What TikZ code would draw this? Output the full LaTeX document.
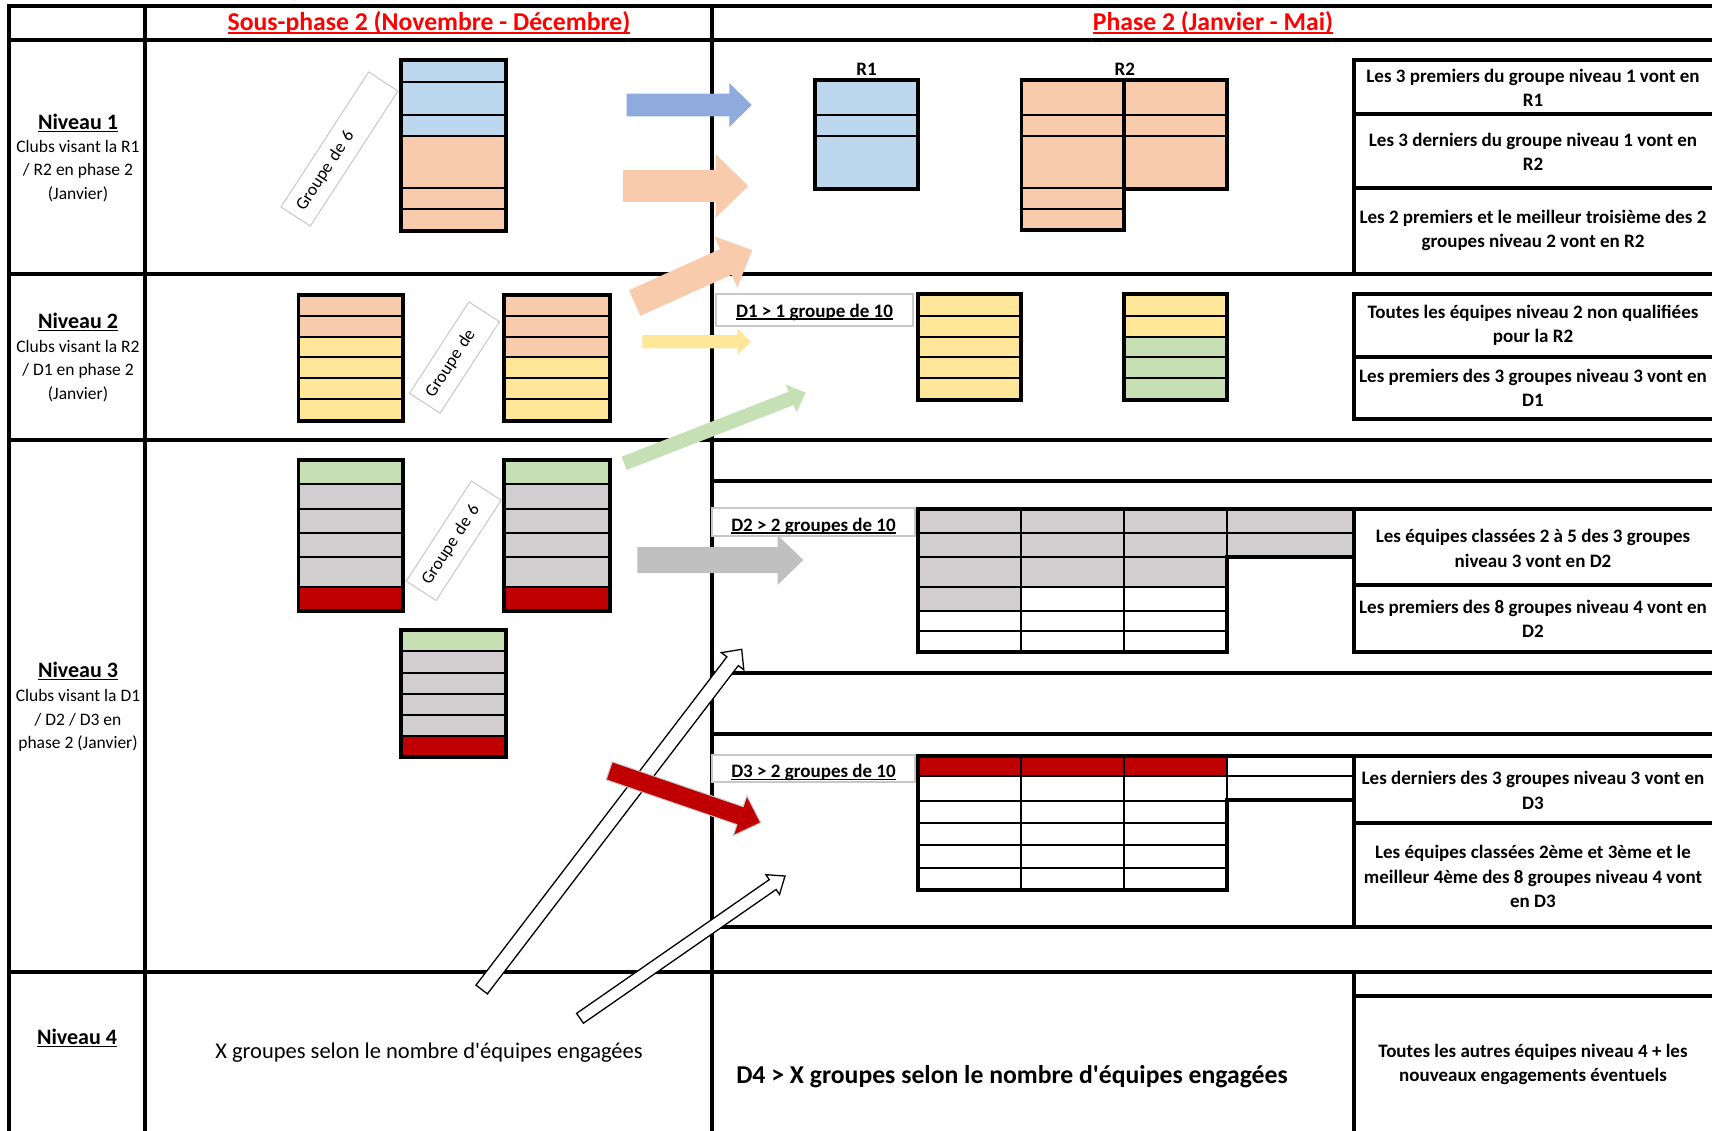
\documentclass[tikz,border=0pt]{standalone}
\usepackage{fontspec}
\setmainfont{Carlito}
\usetikzlibrary{calc}
\definecolor{cblue}{HTML}{BDD7EE}
\definecolor{corange}{HTML}{F8CBAD}
\definecolor{cyellow}{HTML}{FFE699}
\definecolor{cgreen}{HTML}{C6E0B4}
\definecolor{cgray}{HTML}{D0CECE}
\definecolor{cred}{HTML}{C00000}
\definecolor{ablue}{HTML}{8FAADC}
\definecolor{agreen}{HTML}{C5E0B4}
\definecolor{agray}{HTML}{BFBFBF}
\definecolor{hred}{HTML}{FF0000}
\definecolor{lgray}{HTML}{C8C8C8}
\newcommand\ulx[1]{\sbox0{#1}\rlap{\rule[-0.14em]{\wd0}{0.07em}}\usebox0}
\newcommand\fsz[1]{\fontsize{#1}{#1}\selectfont}
% block arrow: style, tail, tip, shaft half width, head half width, head length
\newcommand\barrow[6]{%
  \coordinate (#2b) at ($(#3)!#6!(#2)$);
  \path[#1] ($(#2)!#4!90:(#3)$) -- ($(#2b)!#4!90:(#3)$) -- ($(#2b)!#5!90:(#3)$) -- (#3)
    -- ($(#2b)!#5!-90:(#3)$) -- ($(#2b)!#4!-90:(#3)$) -- ($(#2)!#4!-90:(#3)$) -- cycle;}
% group box: x1, x2, ytop, ybottom, rows
\newcommand\gbox[5]{%
  \foreach \ya/\yb/\fc in {#5}{\fill[\fc] (#1,\ya) rectangle (#2,\yb); \draw[inner] (#1,\ya) -- (#2,\ya);}
  \draw[outer] (#1,#3) rectangle (#2,#4);}
% grid column cells: x1, x2, rows
\newcommand\gcells[3]{%
  \foreach \ya/\yb/\fc in {#3}{\filldraw[fill=\fc, inner] (#1,\ya) rectangle (#2,\yb);}}
\begin{document}
\begin{tikzpicture}[x=1pt,y=-1pt,
  tab/.style={line width=3.5pt, line cap=rect},
  outer/.style={line width=3.6pt, line cap=rect},
  inner/.style={line width=2.2pt},
  hdr/.style={text=hred, font=\bfseries\fsz{25.7}},
  nivt/.style={font=\bfseries\fsz{22}},
  nivs/.style={font=\fontsize{17.5}{23.3}\selectfont, align=center},
  rtxt/.style={font=\bfseries\fontsize{19}{24.5}\selectfont, align=center},
  lblbox/.style={draw=lgray, line width=1.3pt, fill=white, inner sep=0pt},
  lbltxt/.style={font=\bfseries\fsz{19}},
  grpbox/.style={draw=lgray, line width=1pt, fill=white, inner xsep=9pt, inner ysep=0pt, align=left, font=\fsz{17.5}, rotate=57},
  whitearr/.style={fill=white, draw=black, line width=1.3pt, line join=miter}]
\useasboundingbox (0,0) rectangle (1712,1131);
\fill[white] (0,0) rectangle (1712,1131);

% ---- table lines ----
\draw[tab] (9,6) -- (1712,6);
\draw[tab] (9,40) -- (1712,40);
\draw[tab] (9,274) -- (1712,274);
\draw[tab] (9,440) -- (1712,440);
\draw[tab] (9,972) -- (1712,972);
\draw[tab] (9,6) -- (9,1131);
\draw[tab] (145,6) -- (145,1131);
\draw[tab] (712,6) -- (712,1131);
\draw[tab] (712,481) -- (1712,481);
\draw[tab] (712,673) -- (1712,673);
\draw[tab] (712,734) -- (1712,734);
\draw[tab] (712,927) -- (1712,927);
% right text boxes
\draw[tab] (1712,60) -- (1354,60) -- (1354,274);
\draw[tab] (1354,114) -- (1712,114);
\draw[tab] (1354,188) -- (1712,188);
\draw[tab] (1712,294) -- (1354,294) -- (1354,419) -- (1712,419);
\draw[tab] (1354,357) -- (1712,357);
\draw[tab] (1354,509) -- (1712,509);
\draw[tab] (1354,585) -- (1712,585);
\draw[tab] (1354,652) -- (1712,652);
\draw[tab] (1354,509) -- (1354,652);
\draw[tab] (1354,756) -- (1712,756);
\draw[tab] (1354,823) -- (1712,823);
\draw[tab] (1354,756) -- (1354,927);
\draw[tab] (1354,972) -- (1354,1131);
\draw[tab] (1354,996) -- (1712,996);

% ---- headers ----
\node[hdr] (hleft) at (429,23) {\ulx{Sous-phase 2 (Novembre - Décembre)}};
\node[hdr] (hright) at (1213,23) {\ulx{Phase 2 (Janvier - Mai)}};

% ---- level labels ----
\node[nivt] (n1t) at (78,123) {\ulx{Niveau 1}};
\node[nivs] (n1s) at (78,171) {Clubs visant la R1\\/ R2 en phase 2\\(Janvier)};
\node[nivt] (n2t) at (78,322) {\ulx{Niveau 2}};
\node[nivs] (n2s) at (78,371) {Clubs visant la R2\\/ D1 en phase 2\\(Janvier)};
\node[nivt] (n3t) at (78,671) {\ulx{Niveau 3}};
\node[nivs] (n3s) at (78,720.5) {Clubs visant la D1\\/ D2 / D3 en\\phase 2 (Janvier)};
\node[nivt] (n4t) at (77,1038) {\ulx{Niveau 4}};

% ---- left group boxes ----
\gbox{401}{506}{60}{231}{60/82/cblue,82/115/cblue,115/136/cblue,136/188/corange,188/209/corange,209/231/corange}
\gbox{298.5}{403}{295}{421}{295/316/corange,316/337/corange,337/357/cyellow,357/378/cyellow,378/399/cyellow,399/421/cyellow}
\gbox{504}{610}{295}{421}{295/316/corange,316/337/corange,337/357/corange,357/378/cyellow,378/399/cyellow,399/421/cyellow}
\gbox{298.5}{403}{460}{611}{460/484/cgreen,484/509/cgray,509/533/cgray,533/557/cgray,557/587/cgray,587/611/cred}
\gbox{504}{610}{460}{611}{460/484/cgreen,484/509/cgray,509/533/cgray,533/557/cgray,557/587/cgray,587/611/cred}
\gbox{401}{506}{630}{757}{630/651/cgreen,651/673/cgray,673/694/cgray,694/715/cgray,715/736/cgray,736/757/cred}

\node[grpbox, minimum height=35pt, text width=143pt] (g1) at (339.5,149) {Groupe de 6};
\node[grpbox, minimum height=36.5pt, text width=91pt] (g2) at (454.5,357.5) {Groupe de};
\node[grpbox, minimum height=35.5pt, text width=101.5pt] (g3) at (453.7,540.7) {Groupe de 6};

% ---- right: R1 / R2 ----
\node[lbltxt] (r1) at (866.6,69) {R1};
\node[lbltxt] (r2) at (1124.8,69) {R2};
\gbox{815}{918}{80}{189}{80/115/cblue,115/136/cblue,136/189/cblue}
\gbox{1021.5}{1124}{80}{230}{80/115/corange,115/136/corange,136/188/corange,188/209/corange,209/230/corange}
\gbox{1124}{1227}{80}{189}{80/115/corange,115/136/corange,136/189/corange}

% ---- D1 ----
\node[lblbox, minimum width=197pt, minimum height=32pt] (d1box) at (814.5,310) {};
\node[lbltxt] (d1lab) at ([yshift=-2pt]d1box.center) {\ulx{D1 > 1 groupe de 10}};
\gbox{918}{1021}{294}{400}{294/316/cyellow,316/337/cyellow,337/357/cyellow,357/378/cyellow,378/400/cyellow}
\gbox{1124}{1227}{294}{400}{294/316/cyellow,316/337/cyellow,337/357/cgreen,357/378/cgreen,378/400/cgreen}

% ---- D2 ----
\node[lblbox, minimum width=203pt, minimum height=28pt] (d2box) at (813.5,522) {};
\node[lbltxt] (d2lab) at ([yshift=-4pt]d2box.center) {\ulx{D2 > 2 groupes de 10}};
\gcells{918}{1021}{509/533/cgray,533/557/cgray,557/587/cgray,587/611/cgray,611/631/white,631/652/white}
\gcells{1021}{1124}{509/533/cgray,533/557/cgray,557/587/cgray,587/611/white,611/631/white,631/652/white}
\gcells{1124}{1227}{509/533/cgray,533/557/cgray,557/587/cgray,587/611/white,611/631/white,631/652/white}
\gcells{1227}{1354}{509/533/cgray,533/557/cgray}
\draw[outer] (918,509) -- (1354,509) -- (1354,557) -- (1227,557) -- (1227,652) -- (918,652) -- cycle;

% ---- D3 ----
\node[lblbox, minimum width=203pt, minimum height=27pt] (d3box) at (813.5,768.5) {};
\node[lbltxt] (d3lab) at ([yshift=-4pt]d3box.center) {\ulx{D3 > 2 groupes de 10}};
\gcells{918}{1021}{756/776/cred,776/801/white,801/823/white,823/845/white,845/868/white,868/890/white}
\gcells{1021}{1124}{756/776/cred,776/801/white,801/823/white,823/845/white,845/868/white,868/890/white}
\gcells{1124}{1227}{756/776/cred,776/801/white,801/823/white,823/845/white,845/868/white,868/890/white}
\gcells{1227}{1354}{756/776/white,776/800/white}
\draw[outer] (918,756) -- (1354,756) -- (1354,800) -- (1227,800) -- (1227,890) -- (918,890) -- cycle;

% ---- right texts ----
\node[rtxt] (t1) at (1533,88) {Les 3 premiers du groupe niveau 1 vont en\\R1};
\node[rtxt] (t2) at (1533,152) {Les 3 derniers du groupe niveau 1 vont en\\R2};
\node[rtxt] (t3) at (1533,230.5) {Les 2 premiers et le meilleur troisième des 2\\groupes niveau 2 vont en R2};
\node[rtxt] (t4) at (1533,325.5) {Toutes les équipes niveau 2 non qualifiées\\pour la R2};
\node[rtxt] (t5) at (1533,388) {Les premiers des 3 groupes niveau 3 vont en\\D1};
\node[rtxt] (t6) at (1533,548.5) {Les équipes classées 2 à 5 des 3 groupes\\niveau 3 vont en D2};
\node[rtxt] (t7) at (1533,619) {Les premiers des 8 groupes niveau 4 vont en\\D2};
\node[rtxt] (t8) at (1533,790.5) {Les derniers des 3 groupes niveau 3 vont en\\D3};
\node[rtxt] (t9) at (1533,876.5) {Les équipes classées 2ème et 3ème et le\\meilleur 4ème des 8 groupes niveau 4 vont\\en D3};
\node[rtxt] (t10) at (1533,1064.5) {Toutes les autres équipes niveau 4 + les\\nouveaux engagements éventuels};

% ---- level 4 texts ----
\node[font=\fsz{22.5}] (x4) at (429,1053) {X groupes selon le nombre d\textquotesingle équipes engagées};
\node[font=\bfseries\fsz{25.7}] (d4) at (1012,1077) {D4 > X groupes selon le nombre d\textquotesingle équipes engagées};

% ---- arrows ----
\coordinate (tA) at (626.7,105);   \coordinate (hA) at (751.7,105);
\coordinate (tB) at (623,186);     \coordinate (hB) at (748.3,186);
\coordinate (tC) at (634.7,303);   \coordinate (hC) at (752.3,250);
\coordinate (tD) at (642.3,341.7); \coordinate (hD) at (751,341.7);
\coordinate (tE) at (624.2,463.3); \coordinate (hE) at (805.7,392.7);
\coordinate (tF) at (637.3,560);   \coordinate (hF) at (803.3,560);
\coordinate (tW) at (481.7,989.5); \coordinate (hW) at (741.7,649.3);
\coordinate (tV) at (580,1018.3);  \coordinate (hV) at (785,876);
\coordinate (tR) at (609.2,770.8); \coordinate (hR) at (760.7,822.7);
\barrow{fill=ablue}{tA}{hA}{11.35pt}{22pt}{22.4pt}
\barrow{fill=corange}{tB}{hB}{15.85pt}{31.85pt}{32.6pt}
\barrow{fill=corange}{tC}{hC}{14pt}{28pt}{29pt}
\barrow{fill=cyellow}{tD}{hD}{6.65pt}{13.35pt}{13.7pt}
\barrow{fill=agreen}{tE}{hE}{7.1pt}{14.85pt}{15.6pt}
\barrow{fill=agray}{tF}{hF}{13pt}{25pt}{25.8pt}
\barrow{whitearr}{tW}{hW}{7.2pt}{14.1pt}{15pt}
\barrow{whitearr}{tV}{hV}{6pt}{12pt}{15pt}
\barrow{fill=cred, draw=lgray, line width=1pt}{tR}{hR}{9.5pt}{21pt}{21.8pt}
\end{tikzpicture}
\end{document}
